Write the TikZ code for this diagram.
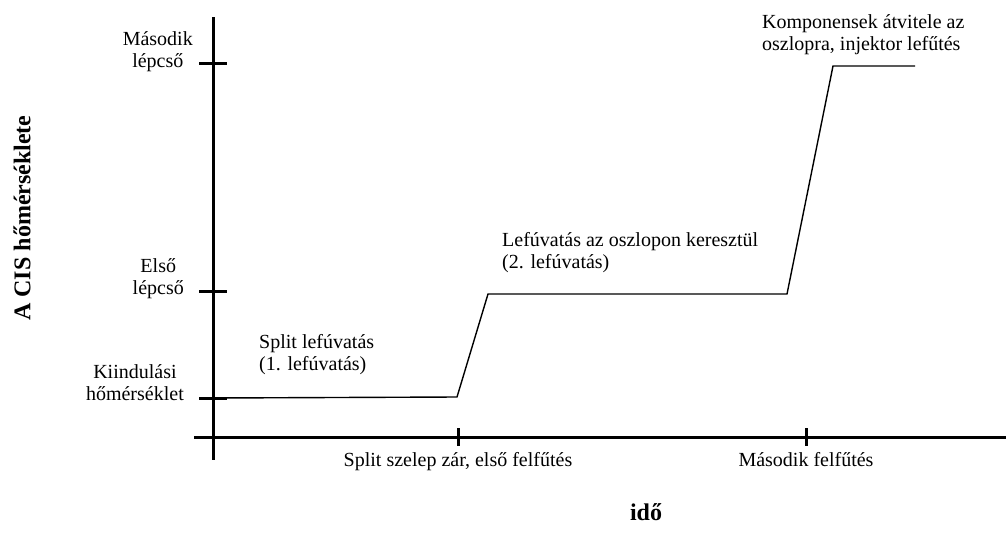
\documentclass[tikz,border=0pt]{standalone}
\usepackage{fontspec}
\setmainfont{Liberation Serif}
\usetikzlibrary{positioning}

\begin{document}
\begin{tikzpicture}[x=1pt, y=-1pt,
    axis/.style={line width=3pt},
    tickmark/.style={line width=3pt},
    profile/.style={line width=1.4pt},
    lbl/.style={font=\fontsize{20}{22}\selectfont, inner sep=0pt, align=center},
    note/.style={font=\fontsize{20}{22}\selectfont, inner sep=0pt, align=left, anchor=south west},
    title/.style={font=\fontsize{24}{26}\selectfont\bfseries, inner sep=0pt}
]
    \useasboundingbox (0,0) rectangle (1006,544);

    % axes
    \coordinate (ytop) at (213,17);
    \coordinate (ybot) at (213,460);
    \coordinate (xleft) at (194,437);
    \coordinate (xright) at (1006,437);
    \draw[axis] (ytop) -- (ybot);
    \draw[axis] (xleft) -- (xright);

    % tick positions
    \coordinate (t0) at (213,398);
    \coordinate (t1) at (213,291);
    \coordinate (t2) at (213,63);
    \coordinate (s1) at (458,437);
    \coordinate (s2) at (806,437);
    \foreach \t in {t0,t1,t2}
        \draw[tickmark] ([xshift=-14pt]\t) -- ([xshift=14pt]\t);
    \foreach \t in {s1,s2}
        \draw[tickmark] ([yshift=9pt]\t) -- ([yshift=-9pt]\t);

    % temperature profile
    \coordinate (p1) at (457,397);
    \coordinate (p2) at (488,294);
    \coordinate (p3) at (787,294);
    \coordinate (p4) at (833,66);
    \coordinate (p5) at (915,66);
    \draw[profile] (t0) -- (p1) -- (p2) -- (p3) -- (p4) -- (p5);

    % y labels
    \node[lbl, anchor=east] (lm) at (193,52) {Második\\lépcső};
    \node[lbl, anchor=east] (le) at (184,279) {Első\\lépcső};
    \node[lbl, anchor=east] (lk) at (184,383) {Kiindulási\\hőmérséklet};

    % phase notes
    \node[note] (n1) at (259,375) {Split lefúvatás\\(1. lefúvatás)};
    \node[note] (n2) at (502,273) {Lefúvatás az oszlopon keresztül\\(2. lefúvatás)};
    \node[note] (n3) at (762,55) {Komponensek átvitele az\\oszlopra, injektor lefűtés};

    % x labels
    \node[lbl, below=15pt of s1] (ls1) {Split szelep zár, első felfűtés};
    \node[lbl, below=15pt of s2] (ls2) {Második felfűtés};

    % axis titles
    \node[title] (tx) at (646,512) {idő};
    \node[title, rotate=90] (ty) at (22,218) {A CIS hőmérséklete};
\end{tikzpicture}
\end{document}
